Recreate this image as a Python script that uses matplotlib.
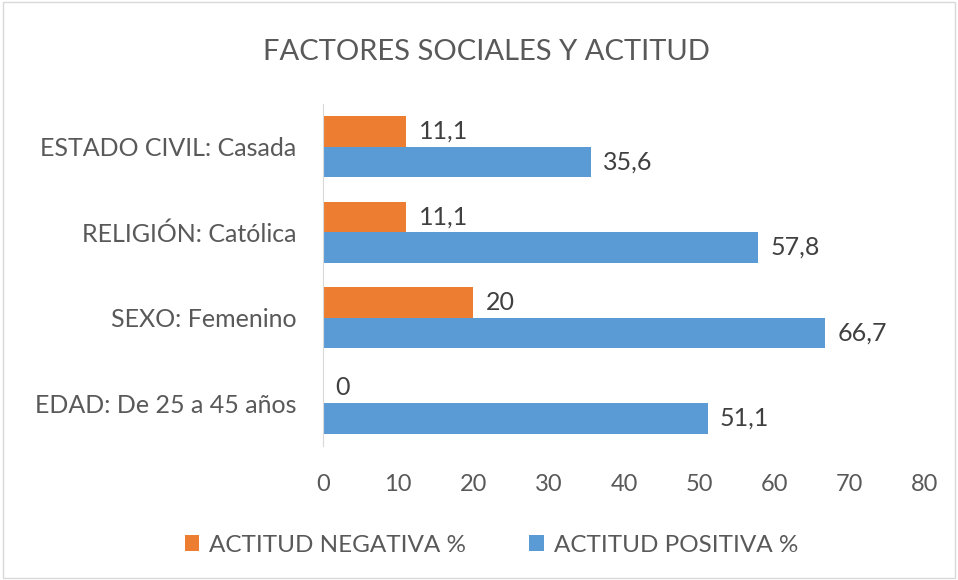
import matplotlib.pyplot as plt
import numpy as np
from matplotlib.patches import Rectangle

plt.rcParams['font.family'] = ['Lato', 'DejaVu Sans']

categorias = ['EDAD: De 25 a 45 años', 'SEXO: Femenino', 'RELIGIÓN: Católica', 'ESTADO CIVIL: Casada']
negativa = [0, 20, 11.1, 11.1]
positiva = [51.1, 66.7, 57.8, 35.6]
ticks_x = [0, 10, 20, 30, 40, 50, 60, 70, 80]

c_neg = '#ED7D31'
c_pos = '#5B9BD5'
gris = '#595959'

fig = plt.figure(figsize=(9.58, 5.8), dpi=100)
ax = fig.add_axes([0.337, 0.231, 0.6286, 0.59])

y = np.arange(len(categorias))
h = 0.357
b_neg = ax.barh(y + h / 2, negativa, height=h, color=c_neg, label='ACTITUD NEGATIVA %')
b_pos = ax.barh(y - h / 2, positiva, height=h, color=c_pos, label='ACTITUD POSITIVA %')

fmt = lambda v: ('%g' % v).replace('.', ',')
ax.bar_label(b_neg, labels=[fmt(v) for v in negativa], padding=9, fontsize=18, color='#404040')
ax.bar_label(b_pos, labels=[fmt(v) for v in positiva], padding=9, fontsize=18, color='#404040')

ax.set_xlim(0, 80)
ax.set_ylim(-0.5, 3.5)
ax.set_xticks(ticks_x)
ax.set_yticks(y)
ax.set_yticklabels(categorias)
ax.tick_params(axis='both', length=0, labelcolor=gris)
ax.tick_params(axis='x', pad=20, labelsize=17)
ax.tick_params(axis='y', pad=19, labelsize=18)
for s in ['top', 'right', 'bottom']:
    ax.spines[s].set_visible(False)
ax.spines['left'].set_color('#D9D9D9')

fig.text(0.508, 0.91, 'FACTORES SOCIALES Y ACTITUD', ha='center', va='center', fontsize=21, color=gris)

fig.legend(loc='center', bbox_to_anchor=(0.513, 0.06), ncol=2, frameon=False, fontsize=17.5,
           handlelength=0.6, handleheight=0.6, columnspacing=2.6, handletextpad=0.4,
           labelcolor=gris)

fig.patches.append(Rectangle((0.003, 0.003), 0.994, 0.994, transform=fig.transFigure,
                             fill=False, edgecolor='#D9D9D9', linewidth=1))

fig.savefig('out.png', dpi=100)
